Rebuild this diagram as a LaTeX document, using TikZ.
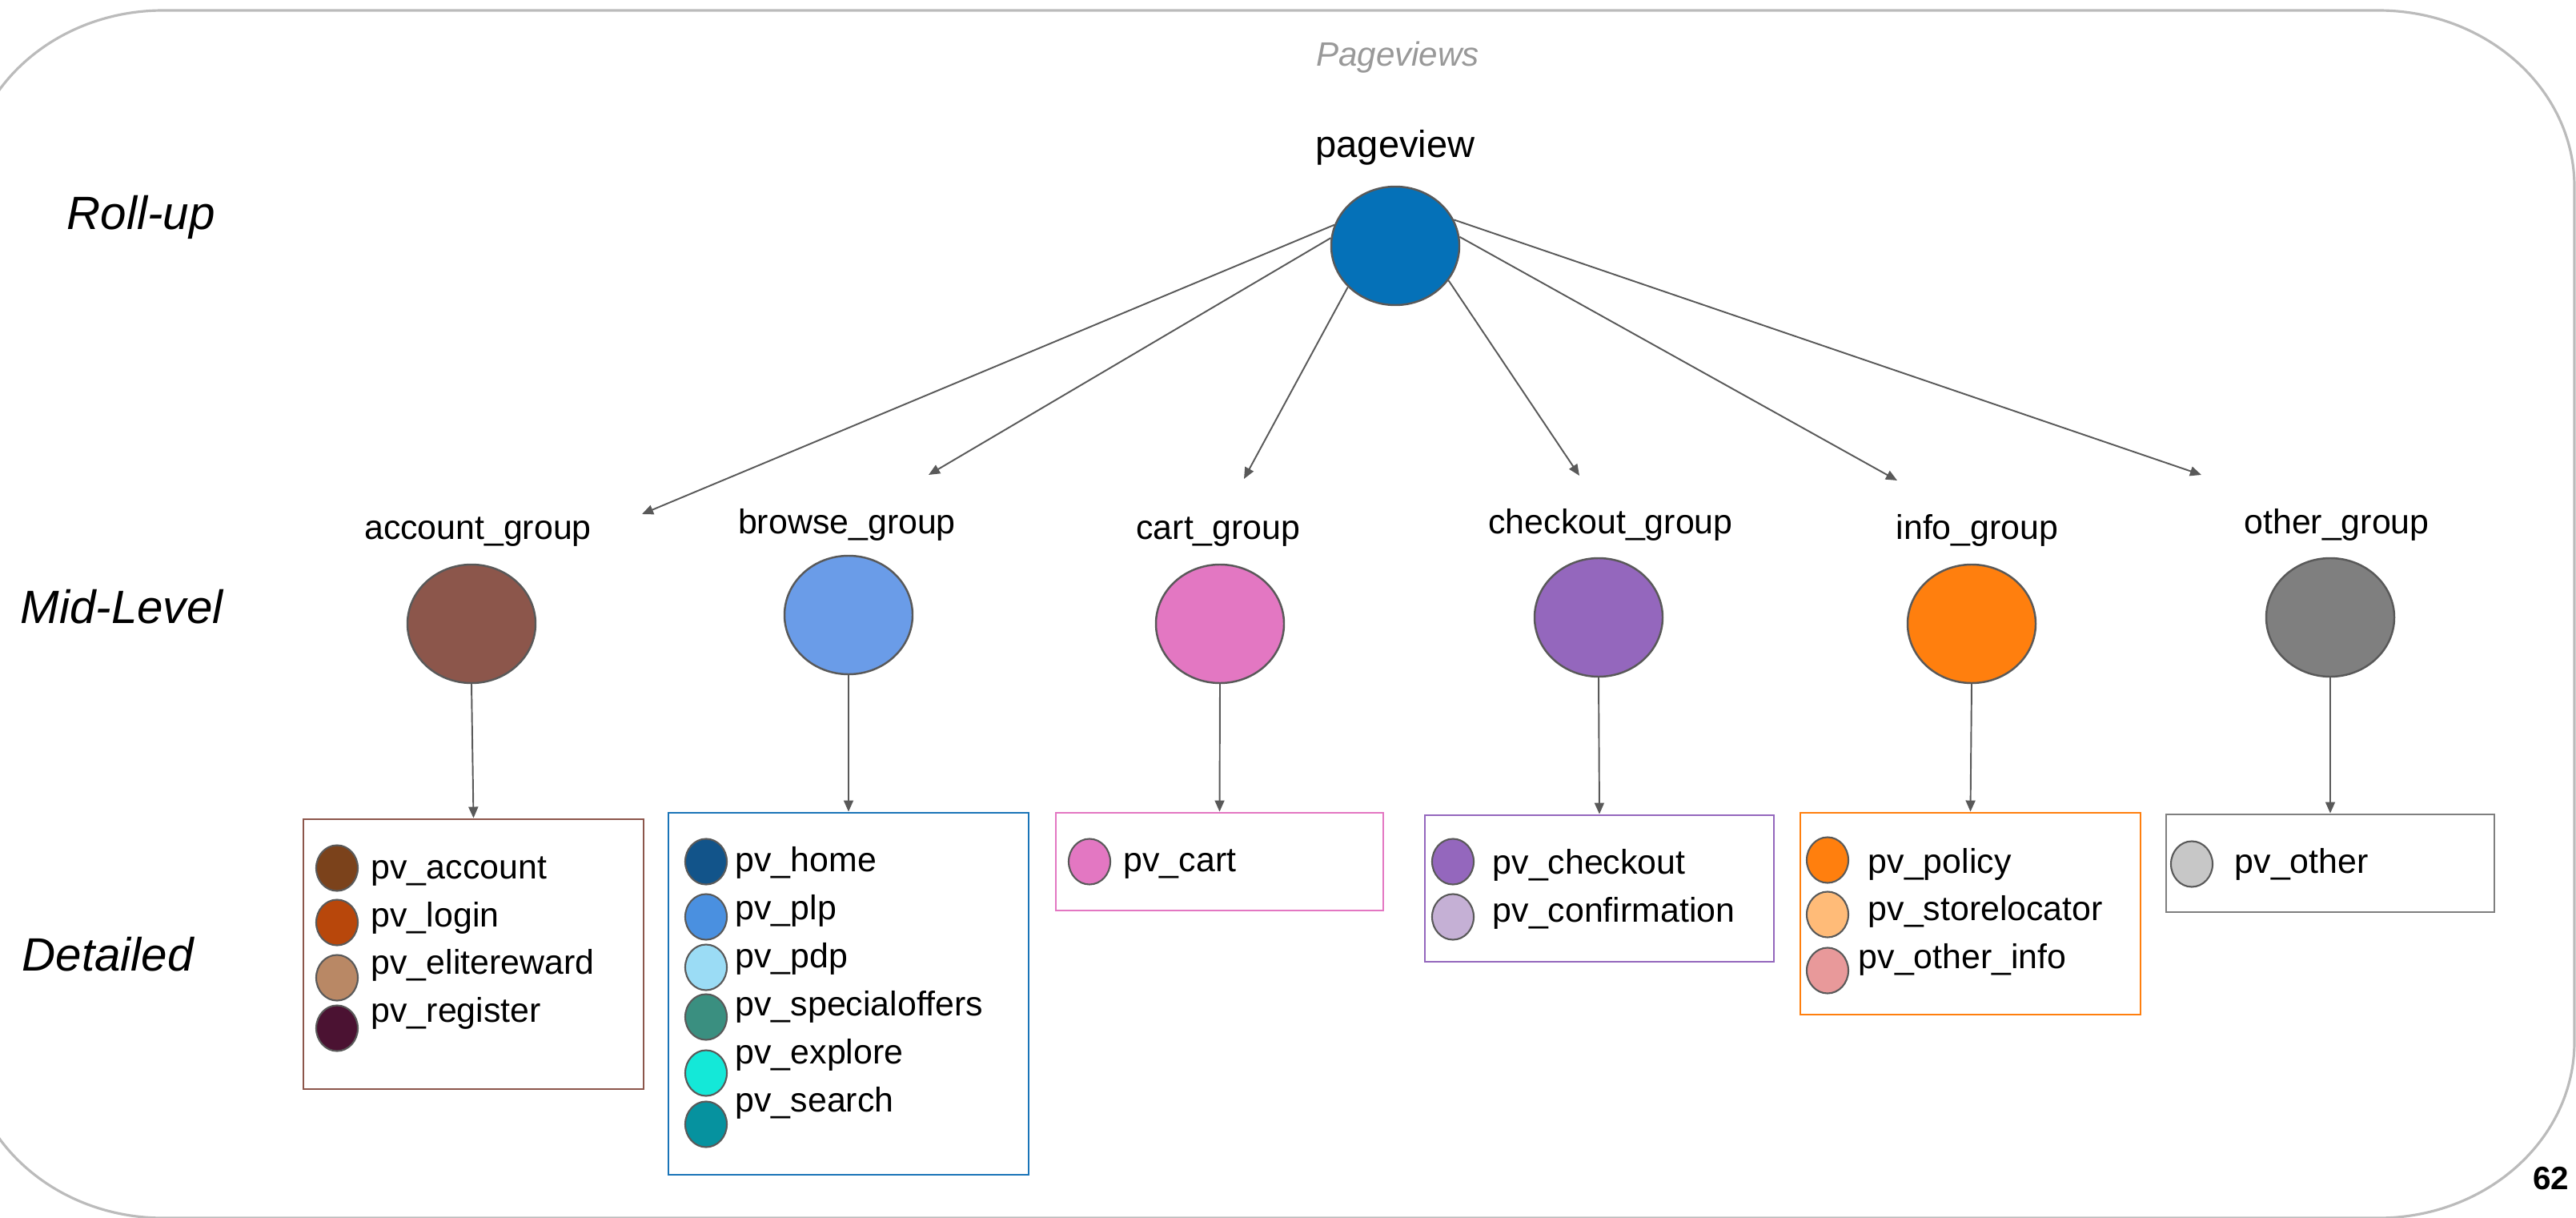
\documentclass[tikz,border=0pt]{standalone}
\usepackage{fontspec}
\setmainfont{Liberation Sans}
\usepackage{xcolor}
\usetikzlibrary{arrows.meta, positioning, shapes.geometric}

% group colours
\definecolor{rootblue}{HTML}{0571B8}
\definecolor{accbrown}{HTML}{8C564B}
\definecolor{brolight}{HTML}{6A9CE8}
\definecolor{broblue}{HTML}{1A74B8}
\definecolor{cartpink}{HTML}{E377C2}
\definecolor{chkpurple}{HTML}{9467BD}
\definecolor{infoorange}{HTML}{FF7F0E}
\definecolor{othgray}{HTML}{7F7F7F}
\definecolor{edgegray}{HTML}{595959}
\definecolor{framegray}{HTML}{BBBBBB}
% page colours
\definecolor{pvacc}{HTML}{7B421B}
\definecolor{pvlogin}{HTML}{B8470B}
\definecolor{pvelite}{HTML}{B98865}
\definecolor{pvreg}{HTML}{4B1232}
\definecolor{pvhome}{HTML}{12548A}
\definecolor{pvplp}{HTML}{4A90E0}
\definecolor{pvpdp}{HTML}{9BDCF5}
\definecolor{pvspec}{HTML}{3A8F80}
\definecolor{pvexpl}{HTML}{14E8D8}
\definecolor{pvsearch}{HTML}{06929F}
\definecolor{pvconf}{HTML}{C5B0D5}
\definecolor{pvstore}{HTML}{FFBB78}
\definecolor{pvoinfo}{HTML}{E8999A}
\definecolor{pvother}{HTML}{C7C7C7}

\tikzset{
  grp/.style={ellipse, draw=edgegray, line width=0.7pt, minimum width=1.6cm, minimum height=1.48cm, inner sep=0pt},
  pvdot/.style={ellipse, draw=edgegray, line width=0.6pt, minimum width=0.52cm, minimum height=0.57cm, inner sep=0pt},
  grplbl/.style={anchor=base, inner sep=0pt, font=\fontsize{12.2}{14}\selectfont},
  pvlbl/.style={anchor=base west, inner sep=0pt, font=\fontsize{12.2}{14}\selectfont},
  levellbl/.style={anchor=base west, inner sep=0pt, font=\fontsize{16.6}{20}\selectfont\itshape},
  detbox/.style={draw, line width=0.8pt, inner sep=0pt},
  link/.style={-{Triangle[length=4pt, width=3.4pt]}, draw=edgegray, line width=0.55pt},
}

\begin{document}
\begin{tikzpicture}
  \useasboundingbox (0,0) rectangle (32.18,15.20);

  % slide frame
  \draw[framegray, line width=0.9pt] (2.04,15.07) -- (29.71,15.07)
    arc[start angle=90, end angle=0, x radius=2.45, y radius=2.2] -- (32.16,2.19)
    arc[start angle=0, end angle=-90, x radius=2.45, y radius=2.2] -- (2.04,-0.01)
    arc[start angle=270, end angle=180, x radius=2.45, y radius=2.2] -- (-0.41,12.87)
    arc[start angle=180, end angle=90, x radius=2.45, y radius=2.2] -- cycle;

  % titles and level names
  \node[anchor=base, inner sep=0pt, text=black!40, font=\fontsize{12}{14}\selectfont\itshape] (title) at (17.46,14.37) {Pageviews};
  \node[levellbl] (rollup) at (0.83,12.33) {Roll-up};
  \node[levellbl] (midlevel) at (0.25,7.42) {Mid-Level};
  \node[levellbl] (detailed) at (0.27,3.08) {Detailed};

  % roll-up
  \node[anchor=base, inner sep=0pt, font=\fontsize{13.4}{16}\selectfont] (pvlabel) at (17.43,13.23) {pageview};
  \node[grp, fill=rootblue] (root) at (17.43,12.13) {};

  % mid-level groups
  \node[grp, fill=accbrown] (acc) at (5.89,7.41) {};
  \node[grp, fill=brolight] (bro) at (10.60,7.52) {};
  \node[grp, fill=cartpink] (cart) at (15.24,7.41) {};
  \node[grp, fill=chkpurple] (chk) at (19.97,7.49) {};
  \node[grp, fill=infoorange] (info) at (24.63,7.41) {};
  \node[grp, fill=othgray] (oth) at (29.11,7.49) {};

  \node[grplbl] (accLbl) at (5.97,8.47) {account\_group};
  \node[grplbl] (broLbl) at (10.58,8.54) {browse\_group};
  \node[grplbl] (cartLbl) at (15.22,8.47) {cart\_group};
  \node[grplbl] (chkLbl) at (20.12,8.54) {checkout\_group};
  \node[grplbl] (infoLbl) at (24.70,8.47) {info\_group};
  \node[grplbl] (othLbl) at (29.19,8.54) {other\_group};

  % arrow ends above the group labels
  \coordinate (accTip) at (8.02,8.78);
  \coordinate (broTip) at (11.60,9.27);
  \coordinate (cartTip) at (15.54,9.22);
  \coordinate (chkTip) at (19.73,9.26);
  \coordinate (infoTip) at (23.70,9.20);
  \coordinate (othTip) at (27.50,9.27);

  \draw[link] (root.161) -- (accTip);
  \draw[link] (root.173) -- (broTip);
  \draw[link] (root.221) -- (cartTip);
  \draw[link] (root.327) -- (chkTip);
  \draw[link] (root.8) -- (infoTip);
  \draw[link] (root.24) -- (othTip);

  % detailed boxes
  \node[detbox, draw=accbrown, minimum width=4.25cm, minimum height=3.37cm] (accBox) at (5.915,3.285) {};
  \node[detbox, draw=broblue, minimum width=4.50cm, minimum height=4.52cm] (broBox) at (10.60,2.79) {};
  \node[detbox, draw=cartpink, minimum width=4.09cm, minimum height=1.22cm] (cartBox) at (15.235,4.44) {};
  \node[detbox, draw=chkpurple, minimum width=4.36cm, minimum height=1.83cm] (chkBox) at (19.98,4.105) {};
  \node[detbox, draw=infoorange, minimum width=4.25cm, minimum height=2.52cm] (infoBox) at (24.615,3.79) {};
  \node[detbox, draw=othgray, minimum width=4.10cm, minimum height=1.22cm] (othBox) at (29.11,4.42) {};

  \draw[link] (acc.south) -- (accBox.north);
  \draw[link] (bro.south) -- (broBox.north);
  \draw[link] (cart.south) -- (cartBox.north);
  \draw[link] (chk.south) -- (chkBox.north);
  \draw[link] (info.south) -- (infoBox.north);
  \draw[link] (oth.south) -- (othBox.north);

  % pages of each group: name/colour/dot y/text y
  \foreach \pname/\pcol/\dy/\ty [count=\i] in {pv\_account/pvacc/4.36/4.23, pv\_login/pvlogin/3.68/3.63,
      pv\_elitereward/pvelite/2.99/3.04, pv\_register/pvreg/2.36/2.44} {
    \node[pvdot, fill=\pcol] (accDot\i) at (4.21,\dy) {};
    \node[pvlbl] (accPg\i) at (4.63,\ty) {\pname};
  }
  \foreach \pname/\pcol/\dy/\ty [count=\i] in {pv\_home/pvhome/4.44/4.32, pv\_plp/pvplp/3.75/3.72,
      pv\_pdp/pvpdp/3.12/3.12, pv\_specialoffers/pvspec/2.50/2.52, pv\_explore/pvexpl/1.80/1.92,
      pv\_search/pvsearch/1.16/1.32} {
    \node[pvdot, fill=\pcol] (broDot\i) at (8.82,\dy) {};
    \node[pvlbl] (broPg\i) at (9.18,\ty) {\pname};
  }
  \node[pvdot, fill=cartpink] (cartDot1) at (13.61,4.44) {};
  \node[pvlbl] (cartPg1) at (14.03,4.32) {pv\_cart};
  \foreach \pname/\pcol/\dy/\ty [count=\i] in {pv\_checkout/chkpurple/4.44/4.29, pv\_confirmation/pvconf/3.75/3.69} {
    \node[pvdot, fill=\pcol] (chkDot\i) at (18.15,\dy) {};
    \node[pvlbl] (chkPg\i) at (18.64,\ty) {\pname};
  }
  \foreach \pname/\pcol/\dy/\tx/\ty [count=\i] in {pv\_policy/infoorange/4.46/23.33/4.30,
      pv\_storelocator/pvstore/3.78/23.33/3.71, pv\_other\_info/pvoinfo/3.08/23.21/3.11} {
    \node[pvdot, fill=\pcol] (infoDot\i) at (22.83,\dy) {};
    \node[pvlbl] (infoPg\i) at (\tx,\ty) {\pname};
  }
  \node[pvdot, fill=pvother] (othDot1) at (27.38,4.41) {};
  \node[pvlbl] (othPg1) at (27.91,4.30) {pv\_other};

  % page number
  \node[anchor=base east, inner sep=0pt, font=\fontsize{11.5}{13}\selectfont\bfseries] (pageno) at (32.10,0.35) {62};
\end{tikzpicture}
\end{document}
